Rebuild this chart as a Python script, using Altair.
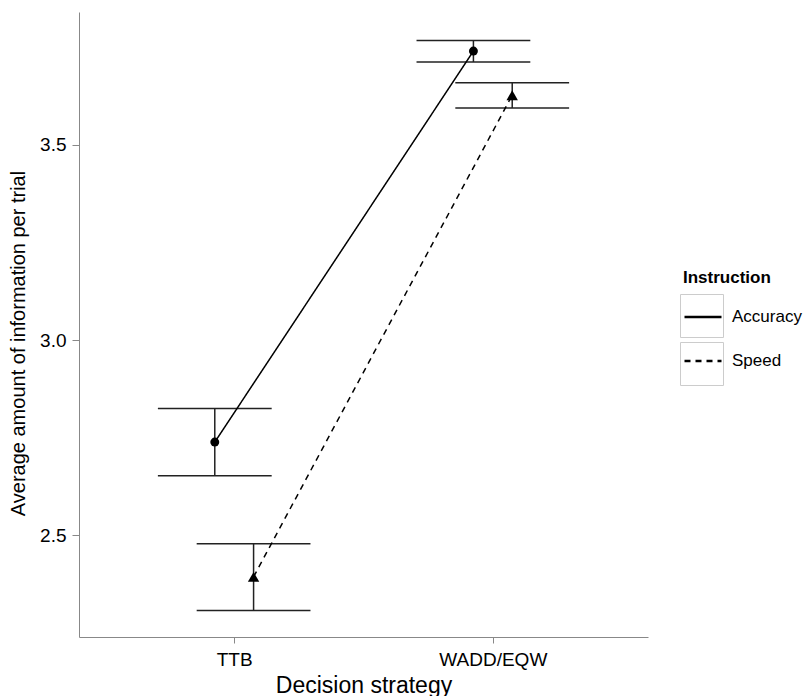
import altair as alt
import pandas as pd

strategies = ["TTB", "TTB", "WADD/EQW", "WADD/EQW"]
instructions = ["Accuracy", "Speed", "Accuracy", "Speed"]
means = [2.739, 2.394, 3.740, 3.627]
lowers = [2.653, 2.308, 3.712, 3.594]
uppers = [2.825, 2.479, 3.767, 3.659]

df = pd.DataFrame({
    "strategy": strategies,
    "Instruction": instructions,
    "mean": means,
    "lower": lowers,
    "upper": uppers,
})

FONT = "Liberation Sans"

base = alt.Chart(df).transform_calculate(
    idx="datum.strategy == 'TTB' ? 1 : 2"
).transform_calculate(
    xd="datum.idx + (datum.Instruction == 'Accuracy' ? -0.075 : 0.075)"
).transform_calculate(
    xl="datum.xd - 0.22",
    xr="datum.xd + 0.22",
    Instruction2="datum.Instruction",
)

xscale = alt.Scale(domain=[0.4, 2.6], nice=False, zero=False)
yscale = alt.Scale(domain=[2.240, 3.840], nice=False, zero=False)

x_axis = alt.Axis(
    values=[1, 2],
    labelExpr="datum.value == 1 ? 'TTB' : 'WADD/EQW'",
    title="Decision strategy",
    grid=False,
    tickSize=6,
    labelPadding=7,
    labelFontSize=19,
    titleFontSize=23,
    titleFontWeight="normal",
    titleBaseline="alphabetic",
    titleY=55,
)
y_axis = alt.Axis(
    values=[2.5, 3.0, 3.5],
    format=".1f",
    title="Average amount of information per trial",
    grid=False,
    tickSize=7,
    labelPadding=6,
    labelFontSize=19,
    titleFontSize=20,
    titleFontWeight="normal",
    titleBaseline="alphabetic",
    titleAngle=270,
    titleAlign="center",
    titleX=-55,
    titleY=331,
)

lines = base.mark_line(color="black", strokeWidth=1.5).encode(
    x=alt.X("xd:Q", scale=xscale, axis=x_axis),
    y=alt.Y("mean:Q", scale=yscale, axis=y_axis),
    strokeDash=alt.StrokeDash(
        "Instruction:N",
        scale=alt.Scale(domain=["Accuracy", "Speed"], range=[[1, 0], [6, 5]]),
        legend=alt.Legend(
            title="Instruction",
            orient="none",
            legendX=604,
            legendY=258,
            padding=0,
            titleFontSize=17,
            titleFontWeight="bold",
            titleColor="black",
            titlePadding=10,
            symbolType="stroke",
            symbolSize=1369,
            symbolStrokeWidth=2.5,
            symbolStrokeColor="black",
            rowPadding=16,
            labelOffset=9,
            labelFontSize=17,
            labelColor="black",
        ),
    ),
    order=alt.Order("idx:Q"),
)

boxes = base.mark_point(shape="square", filled=False, opacity=0).encode(
    x=alt.X("xd:Q", scale=xscale),
    y=alt.Y("mean:Q", scale=yscale),
    stroke=alt.Stroke(
        "Instruction2:N",
        scale=alt.Scale(range=["#cccccc", "#cccccc"]),
        legend=alt.Legend(
            title=None,
            orient="none",
            legendX=601,
            legendY=282,
            padding=0,
            symbolType="square",
            symbolSize=1849,
            symbolStrokeWidth=1,
            symbolOpacity=1,
            symbolFillColor="transparent",
            rowPadding=0,
            labelExpr="''",
            labelFontSize=1,
            labelOffset=0,
        ),
    ),
)

vbars = base.mark_rule(color="#222222", strokeWidth=1.5).encode(
    x=alt.X("xd:Q", scale=xscale),
    y=alt.Y("lower:Q", scale=yscale),
    y2="upper:Q",
)
cap_top = base.mark_rule(color="#222222", strokeWidth=1.5).encode(
    x=alt.X("xl:Q", scale=xscale),
    x2="xr:Q",
    y=alt.Y("upper:Q", scale=yscale),
)
cap_bot = base.mark_rule(color="#222222", strokeWidth=1.5).encode(
    x=alt.X("xl:Q", scale=xscale),
    x2="xr:Q",
    y=alt.Y("lower:Q", scale=yscale),
)

pts_acc = base.transform_filter("datum.Instruction == 'Accuracy'").mark_point(
    filled=True, color="black", opacity=1, size=80, shape="circle"
).encode(
    x=alt.X("xd:Q", scale=xscale),
    y=alt.Y("mean:Q", scale=yscale),
)
pts_spd = base.transform_filter("datum.Instruction == 'Speed'").mark_point(
    filled=True, color="black", opacity=1, size=130, shape="triangle-up"
).encode(
    x=alt.X("xd:Q", scale=xscale),
    y=alt.Y("mean:Q", scale=yscale),
)

chart = alt.layer(boxes, cap_top, cap_bot, vbars, lines, pts_acc, pts_spd).properties(
    width=569,
    height=625,
    autosize=alt.AutoSizeParams(type="none"),
    padding={"left": 79, "top": 12, "right": 158, "bottom": 59},
    view=alt.ViewBackground(stroke="transparent", strokeWidth=0),
).configure_view(
    stroke="transparent",
    strokeWidth=0,
).configure_axis(
    domainColor="black",
    domainWidth=1.5,
    tickColor="black",
    tickWidth=1.5,
    labelColor="#333333",
    titleColor="black",
    labelFont=FONT,
    titleFont=FONT,
).configure_legend(
    labelFont=FONT,
    titleFont=FONT,
).configure(background="white")

chart.save("out.html", embed_options={"renderer": "svg", "actions": False})
